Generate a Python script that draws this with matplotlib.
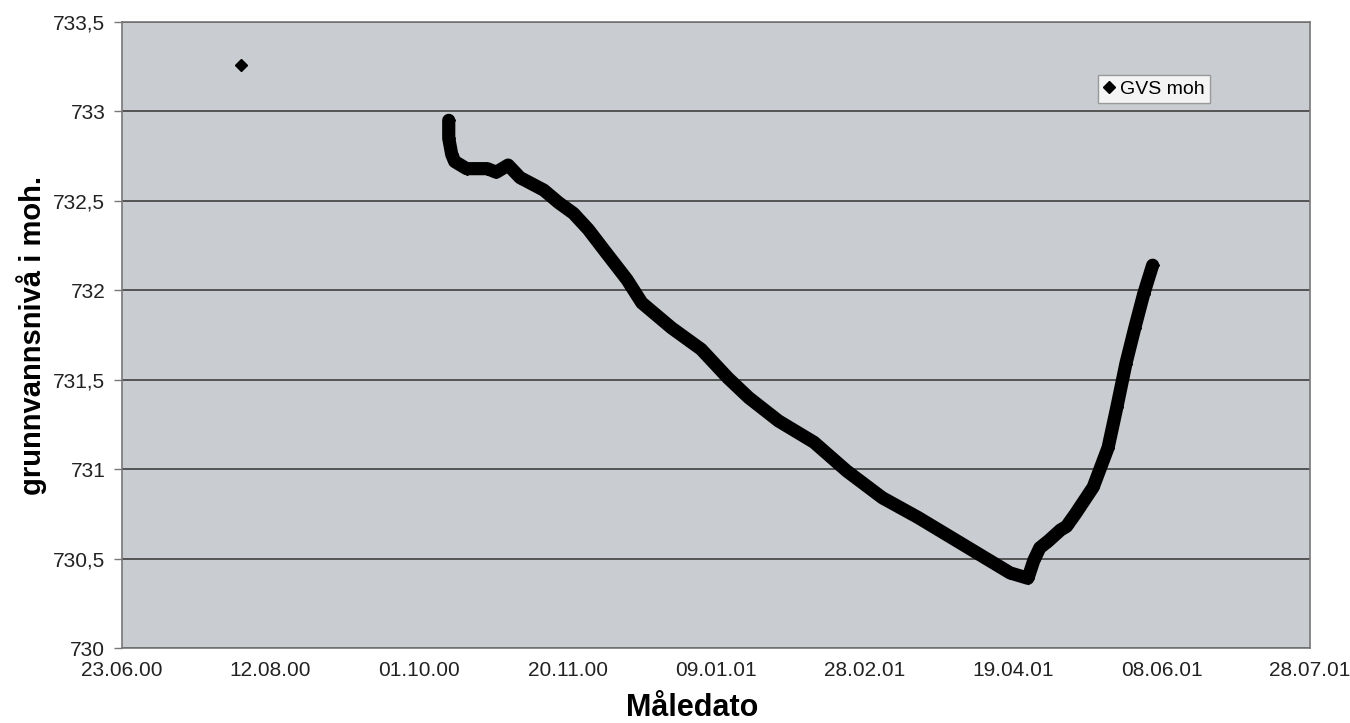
import matplotlib
matplotlib.use("Agg")
import matplotlib.pyplot as plt
import matplotlib.dates as mdates
from matplotlib.ticker import FuncFormatter
import pandas as pd

# groundwater level readings (GVS, metres above sea level)
single_date = ["2000-08-02"]
single_level = [733.26]

dates = [
    "2000-10-11", "2000-10-11", "2000-10-12", "2000-10-13", "2000-10-17",
    "2000-10-24", "2000-10-27", "2000-10-31", "2000-11-04", "2000-11-12",
    "2000-11-17", "2000-11-22", "2000-11-27", "2000-12-03", "2000-12-10",
    "2000-12-15", "2000-12-25", "2001-01-04", "2001-01-13", "2001-01-20",
    "2001-01-30", "2001-02-11", "2001-02-22", "2001-03-06", "2001-03-18",
    "2001-03-29", "2001-04-09", "2001-04-18", "2001-04-24", "2001-04-26",
    "2001-04-28", "2001-05-01", "2001-05-05", "2001-05-07", "2001-05-10",
    "2001-05-16", "2001-05-21", "2001-05-24", "2001-05-27", "2001-05-30",
    "2001-06-02", "2001-06-05",
]
levels = [
    732.95, 732.85, 732.76, 732.72, 732.68,
    732.68, 732.66, 732.70, 732.63, 732.56,
    732.49, 732.43, 732.34, 732.21, 732.06,
    731.93, 731.79, 731.67, 731.51, 731.40,
    731.27, 731.15, 730.99, 730.84, 730.73,
    730.62, 730.51, 730.42, 730.39, 730.49,
    730.56, 730.60, 730.66, 730.68, 730.75,
    730.90, 731.12, 731.35, 731.59, 731.79,
    731.98, 732.14,
]

tick_dates = ["2000-06-23", "2000-08-12", "2000-10-01", "2000-11-20",
              "2001-01-09", "2001-02-28", "2001-04-19", "2001-06-08",
              "2001-07-28"]
y_ticks = [730, 730.5, 731, 731.5, 732, 732.5, 733, 733.5]

x_single = pd.to_datetime(single_date)
x = pd.to_datetime(dates)
x_ticks = pd.to_datetime(tick_dates)

plt.rcParams['font.family'] = ['Liberation Sans', 'DejaVu Sans']

fig = plt.figure(figsize=(13.5, 7.23), dpi=100)
ax = fig.add_axes([0.0904, 0.1037, 0.880, 0.8659])
ax.set_facecolor('#c9ccd0')

ax.set_xlim(x_ticks[0], x_ticks[-1])
ax.set_ylim(730, 733.5)
ax.set_xticks(x_ticks)
ax.set_yticks(y_ticks)
ax.xaxis.set_major_formatter(mdates.DateFormatter('%d.%m.%y'))
ax.yaxis.set_major_formatter(FuncFormatter(lambda v, p: ('%g' % v).replace('.', ',')))

ax.grid(axis='y', color='#4a4a4a', linewidth=1.3)
ax.set_axisbelow(True)
for s in ax.spines.values():
    s.set_color('#777777')
    s.set_linewidth(1.2)

ax.tick_params(axis='x', length=0, pad=9, labelsize=15, colors='#222222')
ax.tick_params(axis='y', length=6, width=1, color='#777777', pad=6,
               labelsize=15, labelcolor='#222222')

ax.plot(x, levels, '-', color='black', linewidth=9.5,
        solid_capstyle='round', solid_joinstyle='round', zorder=3)
ax.plot(x, levels, 'D', color='black', markersize=6.5, zorder=3)
ax.plot(x_single, single_level, 'D', color='black', markersize=6,
        label='GVS moh', zorder=3)

ax.set_ylabel('grunnvannsnivå i moh.', fontsize=21, fontweight='bold')
ax.yaxis.set_label_coords(-0.063, 0.5)
ax.set_xlabel('Måledato', fontsize=22, fontweight='bold')
ax.xaxis.set_label_coords(0.48, -0.072)

leg = ax.legend(loc='upper left', bbox_to_anchor=(0.8215, 0.915), fontsize=14,
                frameon=True, fancybox=False, handlelength=0.6,
                handletextpad=0.3, borderpad=0.25, markerscale=1.0,
                borderaxespad=0)
leg.get_frame().set_edgecolor('#888888')
leg.get_frame().set_facecolor('white')
leg.get_frame().set_linewidth(1)

plt.savefig('out.png', dpi=100)
